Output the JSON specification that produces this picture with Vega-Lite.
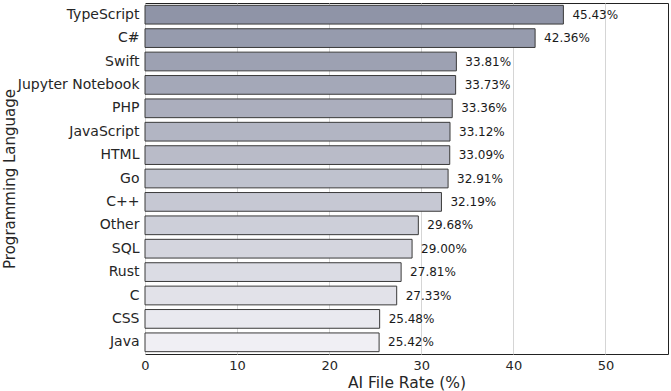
{
  "$schema": "https://vega.github.io/schema/vega-lite/v6.json",
  "width": 523,
  "height": 351,
  "autosize": {"type": "none"},
  "padding": {"left": 145, "top": 3, "right": 3, "bottom": 37},
  "background": "white",
  "config": {
    "font": "DejaVu Sans",
    "view": {"stroke": "#222222", "strokeWidth": 1}
  },
  "data": {
    "values": [
      {"language": "TypeScript", "rate": 45.43},
      {"language": "C#", "rate": 42.36},
      {"language": "Swift", "rate": 33.81},
      {"language": "Jupyter Notebook", "rate": 33.73},
      {"language": "PHP", "rate": 33.36},
      {"language": "JavaScript", "rate": 33.12},
      {"language": "HTML", "rate": 33.09},
      {"language": "Go", "rate": 32.91},
      {"language": "C++", "rate": 32.19},
      {"language": "Other", "rate": 29.68},
      {"language": "SQL", "rate": 29.00},
      {"language": "Rust", "rate": 27.81},
      {"language": "C", "rate": 27.33},
      {"language": "CSS", "rate": 25.48},
      {"language": "Java", "rate": 25.42}
    ]
  },
  "encoding": {
    "y": {
      "field": "language",
      "type": "nominal",
      "sort": null,
      "scale": {"paddingInner": 0.2, "paddingOuter": 0.1},
      "axis": {
        "title": "Programming Language",
        "titleFontSize": 15,
        "titleFontWeight": "normal",
        "titleColor": "#262626",
        "titleX": -136,
        "titleBaseline": "middle",
        "labelFontSize": 14,
        "labelColor": "#262626",
        "ticks": false,
        "labelPadding": 6,
        "domain": false,
        "grid": false
      }
    }
  },
  "layer": [
    {
      "mark": {"type": "bar", "stroke": "#3a3a3a", "strokeWidth": 1},
      "encoding": {
        "x": {
          "field": "rate",
          "type": "quantitative",
          "scale": {"domain": [0, 56.79], "nice": false},
          "axis": {
            "title": "AI File Rate (%)",
            "titleFontSize": 15.5,
            "titleFontWeight": "normal",
            "titleColor": "#262626",
            "titlePadding": 3,
            "values": [0, 10, 20, 30, 40, 50],
            "labelFontSize": 13,
            "labelColor": "#262626",
            "labelFlush": false,
            "ticks": false,
            "labelPadding": 5,
            "domain": false,
            "grid": true,
            "gridColor": "#d5d5d5",
            "gridWidth": 1
          }
        },
        "color": {
          "field": "language",
          "type": "nominal",
          "legend": null,
          "scale": {
            "domain": ["TypeScript", "C#", "Swift", "Jupyter Notebook", "PHP", "JavaScript", "HTML", "Go", "C++", "Other", "SQL", "Rust", "C", "CSS", "Java"],
            "range": ["#8f94a7", "#969bad", "#9da1b2", "#a4a8b8", "#abaebd", "#b2b5c3", "#b9bbc8", "#bfc2ce", "#c6c8d3", "#cdcfd9", "#d4d5de", "#dbdce4", "#e2e2e9", "#e9e9ef", "#f0eff4"]
          }
        }
      }
    },
    {
      "mark": {"type": "text", "align": "left", "baseline": "middle", "dx": 9, "fontSize": 12, "color": "#1a1a1a", "text": {"expr": "format(datum.rate, '.2f') + '%'"}},
      "encoding": {
        "x": {"field": "rate", "type": "quantitative"}
      }
    }
  ]
}
